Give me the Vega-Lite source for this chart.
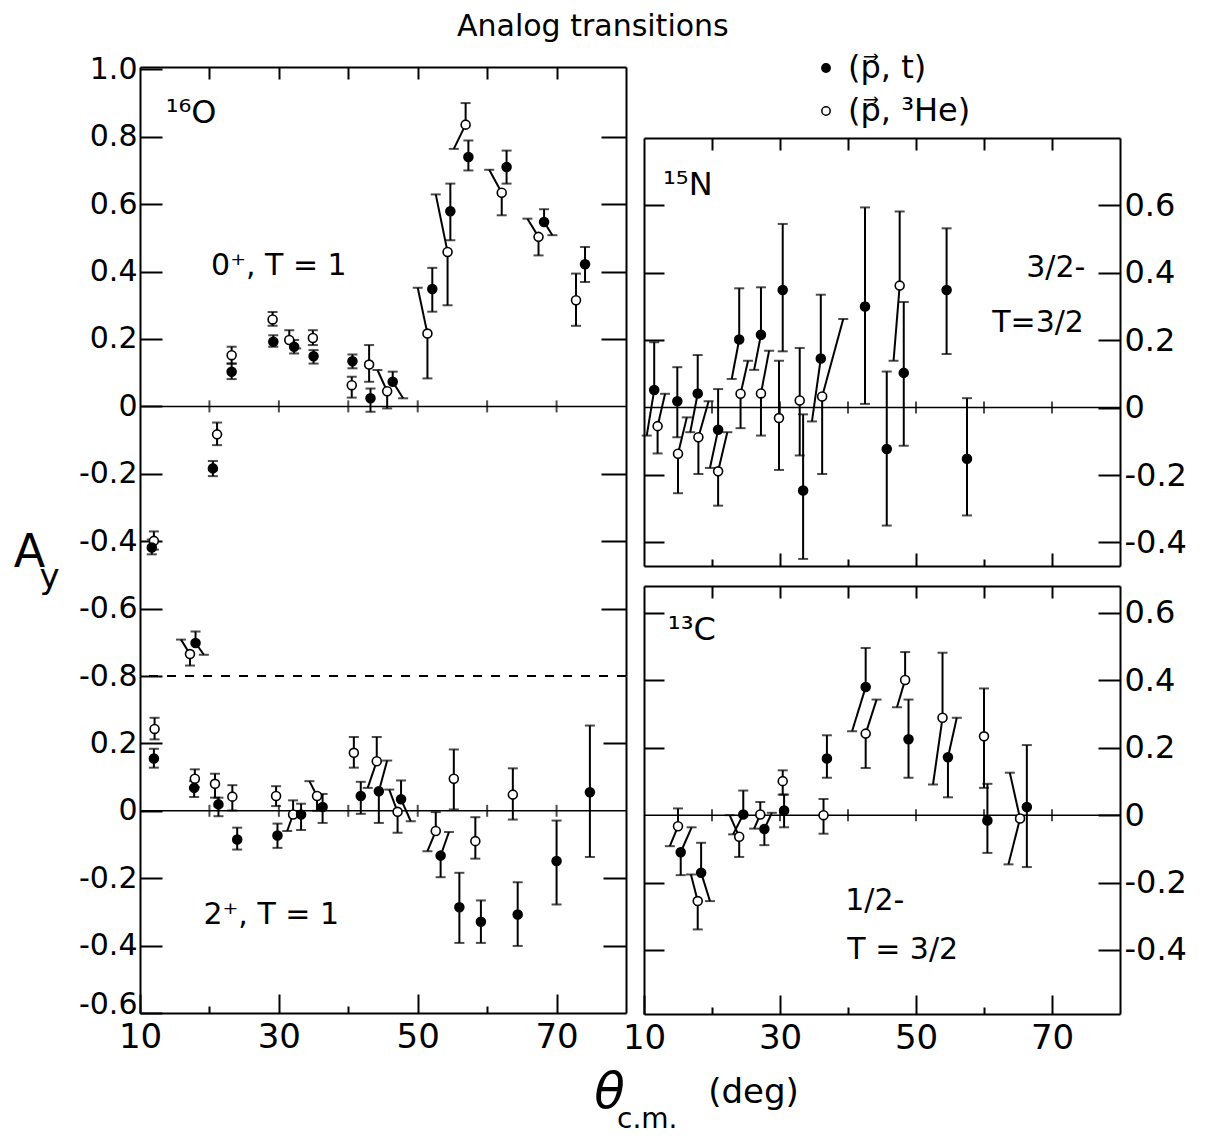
{
  "$schema": "https://vega.github.io/schema/vega-lite/v6.json",
  "padding": {"left": 13, "top": 12, "right": 10, "bottom": 10},
  "background": "white",
  "title": {"text": "Analog transitions", "fontSize": 30, "font": "DejaVu Sans", "fontWeight": "normal", "color": "black", "anchor": "middle", "offset": 10, "dx": -7},
  "config": {
    "view": {"stroke": null},
    "font": "DejaVu Sans",
    "axis": {"grid": false, "domainColor": "black", "domainWidth": 2, "tickColor": "black", "tickWidth": 2, "labelColor": "black", "titleColor": "black", "labelFont": "DejaVu Sans", "titleFont": "DejaVu Sans", "titleFontWeight": "normal", "labelFlush": false, "labelOverlap": false, "labelBound": false}
  },
  "datasets": {
    "zt": [{"g": 20}, {"g": 30}, {"g": 40}, {"g": 50}, {"g": 60}, {"g": 70}],
    "pts": [
      {"p":"LT","r":"h","x":23.2,"y":0.152,"hi":0.177,"lo":0.127,"xh":23.2,"xl":23.2},
      {"p":"LT","r":"t","x":23.2,"y":0.103,"hi":0.127,"lo":0.081,"xh":23.2,"xl":23.2},
      {"p":"LT","r":"h","x":29.1,"y":0.258,"hi":0.28,"lo":0.239,"xh":29.1,"xl":29.1},
      {"p":"LT","r":"t","x":29.2,"y":0.192,"hi":0.211,"lo":0.177,"xh":29.2,"xl":29.2},
      {"p":"LT","r":"h","x":31.5,"y":0.197,"hi":0.226,"lo":0.172,"xh":31.5,"xl":32.5},
      {"p":"LT","r":"t","x":32.2,"y":0.177,"hi":0.197,"lo":0.157,"xh":32.2,"xl":32.2},
      {"p":"LT","r":"h","x":34.9,"y":0.203,"hi":0.226,"lo":0.182,"xh":34.9,"xl":34.9},
      {"p":"LT","r":"t","x":35.0,"y":0.149,"hi":0.167,"lo":0.127,"xh":35.0,"xl":35.0},
      {"p":"LT","r":"t","x":40.6,"y":0.134,"hi":0.154,"lo":0.113,"xh":40.6,"xl":40.6},
      {"p":"LT","r":"h","x":40.5,"y":0.063,"hi":0.088,"lo":0.026,"xh":40.5,"xl":40.5},
      {"p":"LT","r":"h","x":43.0,"y":0.124,"hi":0.182,"lo":0.073,"xh":43.0,"xl":43.0},
      {"p":"LT","r":"t","x":43.2,"y":0.024,"hi":0.053,"lo":-0.016,"xh":43.2,"xl":43.2},
      {"p":"LT","r":"h","x":45.6,"y":0.045,"hi":0.108,"lo":-0.006,"xh":44.2,"xl":45.6},
      {"p":"LT","r":"t","x":46.4,"y":0.073,"hi":0.103,"lo":0.024,"xh":46.4,"xl":47.9},
      {"p":"LT","r":"h","x":51.4,"y":0.216,"hi":0.352,"lo":0.083,"xh":50.0,"xl":51.4},
      {"p":"LT","r":"t","x":52.1,"y":0.348,"hi":0.411,"lo":0.281,"xh":52.1,"xl":52.1},
      {"p":"LT","r":"h","x":54.3,"y":0.458,"hi":0.629,"lo":0.300,"xh":52.6,"xl":54.3},
      {"p":"LT","r":"t","x":54.7,"y":0.579,"hi":0.661,"lo":0.493,"xh":54.7,"xl":54.7},
      {"p":"LT","r":"h","x":56.9,"y":0.836,"hi":0.900,"lo":0.764,"xh":56.9,"xl":55.2},
      {"p":"LT","r":"t","x":57.3,"y":0.740,"hi":0.789,"lo":0.700,"xh":57.3,"xl":57.3},
      {"p":"LT","r":"t","x":62.8,"y":0.710,"hi":0.759,"lo":0.661,"xh":62.8,"xl":62.8},
      {"p":"LT","r":"h","x":62.1,"y":0.634,"hi":0.702,"lo":0.567,"xh":60.3,"xl":62.1},
      {"p":"LT","r":"t","x":68.2,"y":0.547,"hi":0.585,"lo":0.508,"xh":68.2,"xl":69.4},
      {"p":"LT","r":"h","x":67.4,"y":0.503,"hi":0.557,"lo":0.448,"xh":65.8,"xl":67.4},
      {"p":"LT","r":"t","x":74.1,"y":0.422,"hi":0.473,"lo":0.369,"xh":74.1,"xl":74.1},
      {"p":"LT","r":"h","x":72.8,"y":0.315,"hi":0.394,"lo":0.239,"xh":72.8,"xl":72.8},
      {"p":"LT","r":"h","x":21.1,"y":-0.083,"hi":-0.048,"lo":-0.115,"xh":21.1,"xl":21.1},
      {"p":"LT","r":"t","x":20.5,"y":-0.184,"hi":-0.162,"lo":-0.207,"xh":20.5,"xl":20.5},
      {"p":"LT","r":"h","x":12.0,"y":-0.399,"hi":-0.371,"lo":-0.425,"xh":12.0,"xl":12.0},
      {"p":"LT","r":"t","x":11.7,"y":-0.419,"hi":-0.395,"lo":-0.439,"xh":11.7,"xl":11.7},
      {"p":"LT","r":"h","x":17.2,"y":-0.735,"hi":-0.692,"lo":-0.769,"xh":15.9,"xl":17.2},
      {"p":"LT","r":"t","x":18.0,"y":-0.702,"hi":-0.668,"lo":-0.737,"xh":18.0,"xl":19.2},

      {"p":"LB","r":"h","x":12.1,"y":0.243,"hi":0.276,"lo":0.212,"xh":12.1,"xl":12.1},
      {"p":"LB","r":"t","x":12.0,"y":0.155,"hi":0.184,"lo":0.128,"xh":12.0,"xl":12.0},
      {"p":"LB","r":"h","x":17.9,"y":0.095,"hi":0.123,"lo":0.070,"xh":17.9,"xl":17.9},
      {"p":"LB","r":"t","x":17.8,"y":0.068,"hi":0.088,"lo":0.041,"xh":17.8,"xl":17.8},
      {"p":"LB","r":"h","x":20.8,"y":0.080,"hi":0.110,"lo":0.039,"xh":20.8,"xl":20.8},
      {"p":"LB","r":"t","x":21.3,"y":0.019,"hi":0.039,"lo":-0.016,"xh":21.3,"xl":21.3},
      {"p":"LB","r":"h","x":23.3,"y":0.042,"hi":0.076,"lo":0.001,"xh":23.3,"xl":23.3},
      {"p":"LB","r":"t","x":24.0,"y":-0.085,"hi":-0.050,"lo":-0.115,"xh":24.0,"xl":24.0},
      {"p":"LB","r":"h","x":29.6,"y":0.044,"hi":0.073,"lo":0.014,"xh":29.6,"xl":29.6},
      {"p":"LB","r":"t","x":29.8,"y":-0.073,"hi":-0.038,"lo":-0.110,"xh":29.8,"xl":29.8},
      {"p":"LB","r":"h","x":32.05,"y":-0.011,"hi":0.031,"lo":-0.060,"xh":32.05,"xl":31.2},
      {"p":"LB","r":"t","x":33.2,"y":-0.011,"hi":0.021,"lo":-0.057,"xh":33.2,"xl":33.2},
      {"p":"LB","r":"h","x":35.5,"y":0.044,"hi":0.088,"lo":0.0,"xh":34.4,"xl":35.5},
      {"p":"LB","r":"t","x":36.3,"y":0.011,"hi":0.050,"lo":-0.036,"xh":36.3,"xl":36.3},
      {"p":"LB","r":"h","x":40.8,"y":0.172,"hi":0.219,"lo":0.128,"xh":40.8,"xl":40.8},
      {"p":"LB","r":"t","x":41.8,"y":0.044,"hi":0.086,"lo":-0.009,"xh":41.8,"xl":41.8},
      {"p":"LB","r":"h","x":44.1,"y":0.147,"hi":0.219,"lo":0.068,"xh":44.1,"xl":42.8},
      {"p":"LB","r":"t","x":44.4,"y":0.058,"hi":0.149,"lo":-0.036,"xh":45.6,"xl":44.4},
      {"p":"LB","r":"h","x":47.1,"y":-0.003,"hi":0.063,"lo":-0.065,"xh":45.9,"xl":47.1},
      {"p":"LB","r":"t","x":47.6,"y":0.034,"hi":0.090,"lo":-0.031,"xh":47.6,"xl":49.0},
      {"p":"LB","r":"h","x":52.6,"y":-0.060,"hi":-0.004,"lo":-0.120,"xh":52.6,"xl":51.4},
      {"p":"LB","r":"t","x":53.3,"y":-0.133,"hi":-0.063,"lo":-0.197,"xh":54.5,"xl":53.3},
      {"p":"LB","r":"h","x":55.2,"y":0.095,"hi":0.182,"lo":0.004,"xh":55.2,"xl":55.2},
      {"p":"LB","r":"t","x":56.0,"y":-0.286,"hi":-0.184,"lo":-0.392,"xh":56.0,"xl":56.0},
      {"p":"LB","r":"h","x":58.3,"y":-0.090,"hi":-0.019,"lo":-0.142,"xh":58.3,"xl":58.3},
      {"p":"LB","r":"t","x":59.1,"y":-0.329,"hi":-0.266,"lo":-0.392,"xh":59.1,"xl":59.1},
      {"p":"LB","r":"h","x":63.7,"y":0.048,"hi":0.126,"lo":-0.026,"xh":63.7,"xl":63.7},
      {"p":"LB","r":"t","x":64.4,"y":-0.308,"hi":-0.212,"lo":-0.401,"xh":64.4,"xl":64.4},
      {"p":"LB","r":"t","x":70.0,"y":-0.149,"hi":-0.029,"lo":-0.278,"xh":70.0,"xl":70.0},
      {"p":"LB","r":"t","x":74.8,"y":0.055,"hi":0.253,"lo":-0.137,"xh":74.8,"xl":74.8},

      {"p":"RT","r":"t","x":11.5,"y":0.052,"hi":0.194,"lo":-0.083,"xh":11.5,"xl":10.4},
      {"p":"RT","r":"h","x":12.0,"y":-0.055,"hi":0.041,"lo":-0.136,"xh":13.1,"xl":12.0},
      {"p":"RT","r":"t","x":14.9,"y":0.019,"hi":0.120,"lo":-0.088,"xh":14.9,"xl":14.9},
      {"p":"RT","r":"h","x":15.0,"y":-0.137,"hi":-0.029,"lo":-0.254,"xh":16.3,"xl":15.0},
      {"p":"RT","r":"t","x":17.9,"y":0.042,"hi":0.156,"lo":-0.073,"xh":17.9,"xl":16.8},
      {"p":"RT","r":"h","x":18.0,"y":-0.088,"hi":0.019,"lo":-0.197,"xh":19.5,"xl":18.0},
      {"p":"RT","r":"t","x":20.9,"y":-0.066,"hi":0.055,"lo":-0.179,"xh":20.9,"xl":19.7},
      {"p":"RT","r":"h","x":20.9,"y":-0.189,"hi":-0.073,"lo":-0.291,"xh":22.25,"xl":20.9},
      {"p":"RT","r":"t","x":24.0,"y":0.202,"hi":0.354,"lo":0.085,"xh":24.0,"xl":22.9},
      {"p":"RT","r":"h","x":24.2,"y":0.041,"hi":0.139,"lo":-0.061,"xh":25.3,"xl":24.2},
      {"p":"RT","r":"t","x":27.2,"y":0.216,"hi":0.357,"lo":0.112,"xh":27.2,"xl":26.2},
      {"p":"RT","r":"h","x":27.2,"y":0.042,"hi":0.169,"lo":-0.083,"xh":28.4,"xl":27.2},
      {"p":"RT","r":"t","x":30.4,"y":0.349,"hi":0.545,"lo":0.167,"xh":30.4,"xl":30.4},
      {"p":"RT","r":"h","x":29.85,"y":-0.031,"hi":0.139,"lo":-0.185,"xh":29.85,"xl":29.85},
      {"p":"RT","r":"h","x":32.9,"y":0.021,"hi":0.177,"lo":-0.142,"xh":32.9,"xl":32.9},
      {"p":"RT","r":"t","x":33.4,"y":-0.246,"hi":-0.02,"lo":-0.449,"xh":33.4,"xl":33.4},
      {"p":"RT","r":"t","x":36.0,"y":0.146,"hi":0.335,"lo":-0.041,"xh":36.0,"xl":34.7},
      {"p":"RT","r":"h","x":36.2,"y":0.033,"hi":0.263,"lo":-0.197,"xh":39.3,"xl":36.2},
      {"p":"RT","r":"t","x":42.5,"y":0.300,"hi":0.594,"lo":0.011,"xh":42.5,"xl":42.5},
      {"p":"RT","r":"t","x":45.7,"y":-0.123,"hi":0.107,"lo":-0.350,"xh":45.7,"xl":45.7},
      {"p":"RT","r":"h","x":47.6,"y":0.362,"hi":0.582,"lo":0.139,"xh":47.6,"xl":46.7},
      {"p":"RT","r":"t","x":48.2,"y":0.103,"hi":0.313,"lo":-0.113,"xh":48.2,"xl":48.2},
      {"p":"RT","r":"t","x":54.5,"y":0.349,"hi":0.532,"lo":0.159,"xh":54.5,"xl":54.5},
      {"p":"RT","r":"t","x":57.5,"y":-0.152,"hi":0.028,"lo":-0.320,"xh":57.5,"xl":57.5},

      {"p":"RB","r":"h","x":15.0,"y":-0.033,"hi":0.020,"lo":-0.092,"xh":15.0,"xl":13.8},
      {"p":"RB","r":"t","x":15.4,"y":-0.110,"hi":-0.036,"lo":-0.178,"xh":17.0,"xl":15.4},
      {"p":"RB","r":"t","x":18.4,"y":-0.171,"hi":-0.082,"lo":-0.255,"xh":18.4,"xl":19.7},
      {"p":"RB","r":"h","x":17.9,"y":-0.255,"hi":-0.176,"lo":-0.339,"xh":16.9,"xl":17.9},
      {"p":"RB","r":"t","x":24.6,"y":0.002,"hi":0.073,"lo":-0.057,"xh":24.6,"xl":23.1},
      {"p":"RB","r":"h","x":24.0,"y":-0.064,"hi":0.0,"lo":-0.124,"xh":22.6,"xl":24.0},
      {"p":"RB","r":"h","x":27.1,"y":0.002,"hi":0.039,"lo":-0.04,"xh":27.1,"xl":26.2},
      {"p":"RB","r":"t","x":27.7,"y":-0.041,"hi":0.007,"lo":-0.089,"xh":28.8,"xl":27.7},
      {"p":"RB","r":"h","x":30.4,"y":0.101,"hi":0.133,"lo":0.061,"xh":30.4,"xl":30.4},
      {"p":"RB","r":"t","x":30.6,"y":0.014,"hi":0.061,"lo":-0.036,"xh":30.6,"xl":30.6},
      {"p":"RB","r":"t","x":36.9,"y":0.168,"hi":0.237,"lo":0.111,"xh":36.9,"xl":36.9},
      {"p":"RB","r":"h","x":36.4,"y":0.0,"hi":0.048,"lo":-0.055,"xh":36.4,"xl":36.4},
      {"p":"RB","r":"t","x":42.6,"y":0.380,"hi":0.496,"lo":0.249,"xh":42.6,"xl":40.6},
      {"p":"RB","r":"h","x":42.6,"y":0.242,"hi":0.343,"lo":0.140,"xh":44.2,"xl":42.6},
      {"p":"RB","r":"h","x":48.4,"y":0.401,"hi":0.484,"lo":0.320,"xh":48.4,"xl":47.2},
      {"p":"RB","r":"t","x":48.9,"y":0.225,"hi":0.343,"lo":0.111,"xh":48.9,"xl":48.9},
      {"p":"RB","r":"h","x":53.9,"y":0.289,"hi":0.482,"lo":0.091,"xh":53.9,"xl":52.5},
      {"p":"RB","r":"t","x":54.7,"y":0.172,"hi":0.289,"lo":0.053,"xh":56.0,"xl":54.7},
      {"p":"RB","r":"h","x":60.0,"y":0.234,"hi":0.376,"lo":0.081,"xh":60.0,"xl":60.0},
      {"p":"RB","r":"t","x":60.5,"y":-0.016,"hi":0.093,"lo":-0.112,"xh":60.5,"xl":60.5},
      {"p":"RB","r":"h","x":65.3,"y":-0.010,"hi":0.126,"lo":-0.146,"xh":63.8,"xl":63.6},
      {"p":"RB","r":"t","x":66.3,"y":0.024,"hi":0.208,"lo":-0.154,"xh":66.3,"xl":66.3}
    ]
  },
  "spacing": -5,
  "hconcat": [
    {
      "bounds": "flush",
      "spacing": 0,
      "vconcat": [
        {
          "width": 486, "height": 609,
          "resolve": {"axis": {"x": "independent", "y": "independent"}},
          "layer": [
            {"data": {"values": [{}]}, "mark": {"type": "rule", "strokeWidth": 1.5, "color": "black"},
             "encoding": {"y": {"datum": 0, "type": "quantitative", "scale": {"domain": [-0.8, 1.007], "nice": false, "zero": false}, "axis": null}}},
            {"data": {"name": "zt"}, "mark": {"type": "tick", "orient": "vertical", "size": 12, "thickness": 2, "color": "black"},
             "encoding": {"x": {"field": "g", "type": "quantitative", "scale": {"domain": [10, 80], "nice": false, "zero": false}, "axis": null},
                          "y": {"datum": 0, "type": "quantitative", "scale": {"domain": [-0.8, 1.007], "nice": false, "zero": false}, "axis": null}}},
            {"data": {"values": [{}]}, "mark": {"type": "rule", "strokeWidth": 2, "strokeDash": [9, 9], "color": "black"},
             "encoding": {"y": {"datum": -0.8, "type": "quantitative", "scale": {"domain": [-0.8, 1.007], "nice": false, "zero": false}, "axis": null}}},
            {"data": {"name": "pts"}, "transform": [{"filter": "datum.p == 'LT'"}],
             "mark": {"type": "rule", "strokeWidth": 2, "color": "black"},
             "encoding": {
               "x": {"field": "xh", "type": "quantitative", "scale": {"domain": [10, 80], "nice": false, "zero": false}, "axis": null},
               "y": {"field": "hi", "type": "quantitative", "scale": {"domain": [-0.8, 1.007], "nice": false, "zero": false},
                     "axis": {"orient": "left", "values": [-0.8, -0.6, -0.4, -0.2, 0, 0.2, 0.4, 0.6, 0.8, 1.0], "tickSize": -22, "labelPadding": 25, "labelFontSize": 30,
                              "labelExpr": "datum.value == 0 ? '0' : replace(format(datum.value, '.1f'), '\u2212', '-')",
                              "title": "A", "titleFontSize": 46, "titleAngle": 0, "titleAlign": "center", "titleBaseline": "middle", "titleX": -111, "titleY": 485}},
               "x2": {"field": "x"}, "y2": {"field": "y"}}},
            {"data": {"name": "pts"}, "transform": [{"filter": "datum.p == 'LT'"}],
             "mark": {"type": "rule", "strokeWidth": 2, "color": "black"},
             "encoding": {
               "x": {"field": "x", "type": "quantitative", "scale": {"domain": [10, 80], "nice": false, "zero": false},
                     "axis": {"orient": "top", "values": [20, 30, 40, 50, 60, 70], "tickSize": -12, "labels": false, "title": null}},
               "y": {"field": "y", "type": "quantitative", "scale": {"domain": [-0.8, 1.007], "nice": false, "zero": false},
                     "axis": {"orient": "right", "values": [-0.6, -0.4, -0.2, 0.2, 0.4, 0.6, 0.8], "tickSize": -25, "labels": false, "title": null}},
               "x2": {"field": "xl"}, "y2": {"field": "lo"}}},
            {"data": {"name": "pts"}, "transform": [{"filter": "datum.p == 'LT'"}],
             "mark": {"type": "tick", "orient": "horizontal", "size": 10, "thickness": 2, "color": "black"},
             "encoding": {
               "x": {"field": "xh", "type": "quantitative", "scale": {"domain": [10, 80], "nice": false, "zero": false}, "axis": null},
               "y": {"field": "hi", "type": "quantitative", "scale": {"domain": [-0.8, 1.007], "nice": false, "zero": false}, "axis": null}}},
            {"data": {"name": "pts"}, "transform": [{"filter": "datum.p == 'LT'"}],
             "mark": {"type": "tick", "orient": "horizontal", "size": 10, "thickness": 2, "color": "black"},
             "encoding": {
               "x": {"field": "xl", "type": "quantitative", "scale": {"domain": [10, 80], "nice": false, "zero": false}, "axis": null},
               "y": {"field": "lo", "type": "quantitative", "scale": {"domain": [-0.8, 1.007], "nice": false, "zero": false}, "axis": null}}},
            {"data": {"name": "pts"}, "transform": [{"filter": "datum.p == 'LT'"}],
             "mark": {"type": "point", "shape": "circle", "filled": true, "stroke": "black", "strokeWidth": 1.6, "size": 80, "opacity": 1},
             "encoding": {
               "x": {"field": "x", "type": "quantitative", "scale": {"domain": [10, 80], "nice": false, "zero": false}, "axis": null},
               "y": {"field": "y", "type": "quantitative", "scale": {"domain": [-0.8, 1.007], "nice": false, "zero": false}, "axis": null},
               "fill": {"field": "r", "type": "nominal", "scale": {"domain": ["t", "h"], "range": ["black", "white"]},
                        "legend": {"orient": "none", "legendX": 670, "legendY": -15, "title": null, "labelFontSize": 32, "labelColor": "black", "symbolSize": 70, "symbolStrokeColor": "black", "symbolStrokeWidth": 1.5, "symbolType": "circle", "rowPadding": 11, "padding": 0, "labelOffset": 6, "labelLimit": 0,
                                   "labelExpr": "datum.label == 't' ? '(p\u20d7, t)' : '(p\u20d7, \u00b3He)'"}}}},
            {"data": {"values": [{}]}, "mark": {"type": "text", "text": "\u00b9\u2076O", "fontSize": 32, "align": "left", "baseline": "middle", "color": "black"},
             "encoding": {"x": {"datum": 13.7, "type": "quantitative", "scale": {"domain": [10, 80], "nice": false, "zero": false}, "axis": null},
                          "y": {"datum": 0.87, "type": "quantitative", "scale": {"domain": [-0.8, 1.007], "nice": false, "zero": false}, "axis": null}}},
            {"data": {"values": [{}]}, "mark": {"type": "text", "text": "0\u207a, T = 1", "fontSize": 30, "align": "center", "baseline": "middle", "color": "black"},
             "encoding": {"x": {"datum": 30.0, "type": "quantitative", "scale": {"domain": [10, 80], "nice": false, "zero": false}, "axis": null},
                          "y": {"datum": 0.418, "type": "quantitative", "scale": {"domain": [-0.8, 1.007], "nice": false, "zero": false}, "axis": null}}}
          ]
        },
        {
          "width": 486, "height": 337,
          "resolve": {"axis": {"x": "independent", "y": "independent"}},
          "layer": [
            {"data": {"values": [{}]}, "mark": {"type": "rule", "strokeWidth": 1.5, "color": "black"},
             "encoding": {"y": {"datum": 0, "type": "quantitative", "scale": {"domain": [-0.6, 0.4], "nice": false, "zero": false}, "axis": null},
                          "strokeDash": {"datum": "c.m.", "type": "nominal", "scale": {"domain": ["c.m."], "range": [[1, 0]]},
                                         "legend": {"orient": "none", "legendX": 449, "legendY": 1039, "title": null, "labelFontSize": 28, "labelColor": "black", "symbolSize": 0, "symbolOpacity": 0, "symbolStrokeWidth": 0, "padding": 0, "labelOffset": 0, "labelLimit": 0}}}},
            {"data": {"name": "zt"}, "mark": {"type": "tick", "orient": "vertical", "size": 12, "thickness": 2, "color": "black"},
             "encoding": {"x": {"field": "g", "type": "quantitative", "scale": {"domain": [10, 80], "nice": false, "zero": false}, "axis": null},
                          "y": {"datum": 0, "type": "quantitative", "scale": {"domain": [-0.6, 0.4], "nice": false, "zero": false}, "axis": null}}},
            {"data": {"name": "pts"}, "transform": [{"filter": "datum.p == 'LB'"}],
             "mark": {"type": "rule", "strokeWidth": 2, "color": "black"},
             "encoding": {
               "x": {"field": "xh", "type": "quantitative", "scale": {"domain": [10, 80], "nice": false, "zero": false},
                     "axis": {"orient": "bottom", "values": [10, 20, 30, 40, 50, 60, 70],
                              "tickSize": {"condition": {"test": "datum.value % 20 == 10", "value": -19}, "value": -7},
                              "labelPadding": 26, "labelFontSize": 34, "labelExpr": "datum.value % 20 == 10 ? datum.label : ''",
                              "title": "\u03b8", "titleFontSize": 50, "titleFontStyle": "italic", "titleAlign": "center", "titleBaseline": "middle", "titleX": 469, "titleY": 79}},
               "y": {"field": "hi", "type": "quantitative", "scale": {"domain": [-0.6, 0.4], "nice": false, "zero": false},
                     "axis": {"orient": "left", "values": [-0.6, -0.4, -0.2, 0, 0.2], "tickSize": -22, "labelPadding": 25, "labelFontSize": 30,
                              "labelOffset": {"condition": {"test": "datum.value == -0.6", "value": -9}, "value": 0},
                              "labelExpr": "datum.value == 0 ? '0' : replace(format(datum.value, '.1f'), '\u2212', '-')",
                              "title": "y", "titleFontSize": 34, "titleAngle": 0, "titleAlign": "center", "titleBaseline": "middle", "titleX": -91, "titleY": -99}},
               "x2": {"field": "x"}, "y2": {"field": "y"}}},
            {"data": {"name": "pts"}, "transform": [{"filter": "datum.p == 'LB'"}],
             "mark": {"type": "rule", "strokeWidth": 2, "color": "black"},
             "encoding": {
               "x": {"field": "x", "type": "quantitative", "scale": {"domain": [10, 80], "nice": false, "zero": false}, "axis": null},
               "y": {"field": "y", "type": "quantitative", "scale": {"domain": [-0.6, 0.4], "nice": false, "zero": false},
                     "axis": {"orient": "right", "values": [-0.4, -0.2, 0.2], "tickSize": -23, "labels": false, "title": null}},
               "x2": {"field": "xl"}, "y2": {"field": "lo"}}},
            {"data": {"name": "pts"}, "transform": [{"filter": "datum.p == 'LB'"}],
             "mark": {"type": "tick", "orient": "horizontal", "size": 10, "thickness": 2, "color": "black"},
             "encoding": {
               "x": {"field": "xh", "type": "quantitative", "scale": {"domain": [10, 80], "nice": false, "zero": false}, "axis": null},
               "y": {"field": "hi", "type": "quantitative", "scale": {"domain": [-0.6, 0.4], "nice": false, "zero": false}, "axis": null}}},
            {"data": {"name": "pts"}, "transform": [{"filter": "datum.p == 'LB'"}],
             "mark": {"type": "tick", "orient": "horizontal", "size": 10, "thickness": 2, "color": "black"},
             "encoding": {
               "x": {"field": "xl", "type": "quantitative", "scale": {"domain": [10, 80], "nice": false, "zero": false}, "axis": null},
               "y": {"field": "lo", "type": "quantitative", "scale": {"domain": [-0.6, 0.4], "nice": false, "zero": false}, "axis": null}}},
            {"data": {"name": "pts"}, "transform": [{"filter": "datum.p == 'LB'"}],
             "mark": {"type": "point", "shape": "circle", "filled": true, "stroke": "black", "strokeWidth": 1.6, "size": 80, "opacity": 1},
             "encoding": {
               "x": {"field": "x", "type": "quantitative", "scale": {"domain": [10, 80], "nice": false, "zero": false}, "axis": null},
               "y": {"field": "y", "type": "quantitative", "scale": {"domain": [-0.6, 0.4], "nice": false, "zero": false}, "axis": null},
               "fill": {"field": "r", "type": "nominal", "scale": {"domain": ["t", "h"], "range": ["black", "white"]},
                        "legend": {"orient": "none", "legendX": 670, "legendY": -15, "title": null, "labelFontSize": 32, "labelColor": "black", "symbolSize": 70, "symbolStrokeColor": "black", "symbolStrokeWidth": 1.5, "symbolType": "circle", "rowPadding": 11, "padding": 0, "labelOffset": 6, "labelLimit": 0,
                                   "labelExpr": "datum.label == 't' ? '(p\u20d7, t)' : '(p\u20d7, \u00b3He)'"}}}},
            {"data": {"values": [{}]}, "mark": {"type": "text", "text": "2\u207a, T = 1", "fontSize": 30, "align": "center", "baseline": "middle", "color": "black"},
             "encoding": {"x": {"datum": 28.9, "type": "quantitative", "scale": {"domain": [10, 80], "nice": false, "zero": false}, "axis": null},
                          "y": {"datum": -0.31, "type": "quantitative", "scale": {"domain": [-0.6, 0.4], "nice": false, "zero": false}, "axis": null}}}
          ]
        }
      ]
    },
    {
      "bounds": "flush",
      "spacing": 20,
      "vconcat": [
        {"width": 476, "height": 51, "data": {"values": [{}]}, "mark": {"type": "text"}, "encoding": {"text": {"value": ""}}},
        {
          "width": 476, "height": 428,
          "resolve": {"axis": {"x": "independent", "y": "independent"}},
          "layer": [
            {"data": {"values": [{}]}, "mark": {"type": "rule", "strokeWidth": 1.5, "color": "black"},
             "encoding": {"y": {"datum": 0, "type": "quantitative", "scale": {"domain": [-0.47, 0.8], "nice": false, "zero": false}, "axis": null}}},
            {"data": {"name": "zt"}, "mark": {"type": "tick", "orient": "vertical", "size": 12, "thickness": 2, "color": "black"},
             "encoding": {"x": {"field": "g", "type": "quantitative", "scale": {"domain": [10, 80], "nice": false, "zero": false}, "axis": null},
                          "y": {"datum": 0, "type": "quantitative", "scale": {"domain": [-0.47, 0.8], "nice": false, "zero": false}, "axis": null}}},
            {"data": {"name": "pts"}, "transform": [{"filter": "datum.p == 'RT'"}],
             "mark": {"type": "rule", "strokeWidth": 2, "color": "black"},
             "encoding": {
               "x": {"field": "xh", "type": "quantitative", "scale": {"domain": [10, 80], "nice": false, "zero": false},
                     "axis": {"orient": "bottom", "values": [20, 30, 40, 50, 60, 70], "tickSize": {"condition": {"test": "datum.value % 20 == 10", "value": -13}, "value": -7}, "labels": false, "title": null}},
               "y": {"field": "hi", "type": "quantitative", "scale": {"domain": [-0.47, 0.8], "nice": false, "zero": false},
                     "axis": {"orient": "left", "values": [-0.4, -0.2, 0.2, 0.4, 0.6], "tickSize": -20, "labels": false, "title": null}},
               "x2": {"field": "x"}, "y2": {"field": "y"}}},
            {"data": {"name": "pts"}, "transform": [{"filter": "datum.p == 'RT'"}],
             "mark": {"type": "rule", "strokeWidth": 2, "color": "black"},
             "encoding": {
               "x": {"field": "x", "type": "quantitative", "scale": {"domain": [10, 80], "nice": false, "zero": false},
                     "axis": {"orient": "top", "values": [20, 30, 40, 50, 60, 70], "tickSize": -12, "labels": false, "title": null}},
               "y": {"field": "y", "type": "quantitative", "scale": {"domain": [-0.47, 0.8], "nice": false, "zero": false},
                     "axis": {"orient": "right", "values": [-0.4, -0.2, 0, 0.2, 0.4, 0.6], "tickSize": -22, "labelPadding": 26, "labelFontSize": 32,
                              "labelExpr": "datum.value == 0 ? '0' : replace(format(datum.value, '.1f'), '\u2212', '-')", "title": null}},
               "x2": {"field": "xl"}, "y2": {"field": "lo"}}},
            {"data": {"name": "pts"}, "transform": [{"filter": "datum.p == 'RT'"}],
             "mark": {"type": "tick", "orient": "horizontal", "size": 10, "thickness": 2, "color": "black"},
             "encoding": {
               "x": {"field": "xh", "type": "quantitative", "scale": {"domain": [10, 80], "nice": false, "zero": false}, "axis": null},
               "y": {"field": "hi", "type": "quantitative", "scale": {"domain": [-0.47, 0.8], "nice": false, "zero": false}, "axis": null}}},
            {"data": {"name": "pts"}, "transform": [{"filter": "datum.p == 'RT'"}],
             "mark": {"type": "tick", "orient": "horizontal", "size": 10, "thickness": 2, "color": "black"},
             "encoding": {
               "x": {"field": "xl", "type": "quantitative", "scale": {"domain": [10, 80], "nice": false, "zero": false}, "axis": null},
               "y": {"field": "lo", "type": "quantitative", "scale": {"domain": [-0.47, 0.8], "nice": false, "zero": false}, "axis": null}}},
            {"data": {"name": "pts"}, "transform": [{"filter": "datum.p == 'RT'"}],
             "mark": {"type": "point", "shape": "circle", "filled": true, "stroke": "black", "strokeWidth": 1.6, "size": 80, "opacity": 1},
             "encoding": {
               "x": {"field": "x", "type": "quantitative", "scale": {"domain": [10, 80], "nice": false, "zero": false}, "axis": null},
               "y": {"field": "y", "type": "quantitative", "scale": {"domain": [-0.47, 0.8], "nice": false, "zero": false}, "axis": null},
               "fill": {"field": "r", "type": "nominal", "scale": {"domain": ["t", "h"], "range": ["black", "white"]},
                        "legend": {"orient": "none", "legendX": 670, "legendY": -15, "title": null, "labelFontSize": 32, "labelColor": "black", "symbolSize": 70, "symbolStrokeColor": "black", "symbolStrokeWidth": 1.5, "symbolType": "circle", "rowPadding": 11, "padding": 0, "labelOffset": 6, "labelLimit": 0,
                                   "labelExpr": "datum.label == 't' ? '(p\u20d7, t)' : '(p\u20d7, \u00b3He)'"}}}},
            {"data": {"values": [{}]}, "mark": {"type": "text", "text": "\u00b9\u2075N", "fontSize": 32, "align": "left", "baseline": "middle", "color": "black"},
             "encoding": {"x": {"datum": 12.8, "type": "quantitative", "scale": {"domain": [10, 80], "nice": false, "zero": false}, "axis": null},
                          "y": {"datum": 0.66, "type": "quantitative", "scale": {"domain": [-0.47, 0.8], "nice": false, "zero": false}, "axis": null}}},
            {"data": {"values": [{}]}, "mark": {"type": "text", "text": "3/2-", "fontSize": 30, "align": "right", "baseline": "middle", "color": "black"},
             "encoding": {"x": {"datum": 74.9, "type": "quantitative", "scale": {"domain": [10, 80], "nice": false, "zero": false}, "axis": null},
                          "y": {"datum": 0.415, "type": "quantitative", "scale": {"domain": [-0.47, 0.8], "nice": false, "zero": false}, "axis": null}}},
            {"data": {"values": [{}]}, "mark": {"type": "text", "text": "T=3/2", "fontSize": 30, "align": "right", "baseline": "middle", "color": "black"},
             "encoding": {"x": {"datum": 74.7, "type": "quantitative", "scale": {"domain": [10, 80], "nice": false, "zero": false}, "axis": null},
                          "y": {"datum": 0.25, "type": "quantitative", "scale": {"domain": [-0.47, 0.8], "nice": false, "zero": false}, "axis": null}}}
          ]
        },
        {
          "width": 476, "height": 428,
          "resolve": {"axis": {"x": "independent", "y": "independent"}},
          "layer": [
            {"data": {"values": [{}]}, "mark": {"type": "rule", "strokeWidth": 1.5, "color": "black"},
             "encoding": {"y": {"datum": 0, "type": "quantitative", "scale": {"domain": [-0.59, 0.68], "nice": false, "zero": false}, "axis": null}}},
            {"data": {"name": "zt"}, "mark": {"type": "tick", "orient": "vertical", "size": 12, "thickness": 2, "color": "black"},
             "encoding": {"x": {"field": "g", "type": "quantitative", "scale": {"domain": [10, 80], "nice": false, "zero": false}, "axis": null},
                          "y": {"datum": 0, "type": "quantitative", "scale": {"domain": [-0.59, 0.68], "nice": false, "zero": false}, "axis": null}}},
            {"data": {"name": "pts"}, "transform": [{"filter": "datum.p == 'RB'"}],
             "mark": {"type": "rule", "strokeWidth": 2, "color": "black"},
             "encoding": {
               "x": {"field": "xh", "type": "quantitative", "scale": {"domain": [10, 80], "nice": false, "zero": false},
                     "axis": {"orient": "bottom", "values": [10, 20, 30, 40, 50, 60, 70],
                              "tickSize": {"condition": {"test": "datum.value % 20 == 10", "value": -19}, "value": -7},
                              "labelPadding": 26, "labelFontSize": 34, "labelExpr": "datum.value % 20 == 10 ? datum.label : ''",
                              "title": "(deg)", "titleFontSize": 34, "titleAlign": "center", "titleBaseline": "middle", "titleX": 109, "titleY": 78}},
               "y": {"field": "hi", "type": "quantitative", "scale": {"domain": [-0.59, 0.68], "nice": false, "zero": false},
                     "axis": {"orient": "left", "values": [-0.4, -0.2, 0.2, 0.4, 0.6], "tickSize": -20, "labels": false, "title": null}},
               "x2": {"field": "x"}, "y2": {"field": "y"}}},
            {"data": {"name": "pts"}, "transform": [{"filter": "datum.p == 'RB'"}],
             "mark": {"type": "rule", "strokeWidth": 2, "color": "black"},
             "encoding": {
               "x": {"field": "x", "type": "quantitative", "scale": {"domain": [10, 80], "nice": false, "zero": false},
                     "axis": {"orient": "top", "values": [20, 30, 40, 50, 60, 70], "tickSize": -12, "labels": false, "title": null}},
               "y": {"field": "y", "type": "quantitative", "scale": {"domain": [-0.59, 0.68], "nice": false, "zero": false},
                     "axis": {"orient": "right", "values": [-0.6, -0.4, -0.2, 0, 0.2, 0.4, 0.6], "tickSize": -22, "labelPadding": 26, "labelFontSize": 32,
                              "labelOffset": {"condition": {"test": "datum.value == -0.6", "value": -9}, "value": 0},
                              "labelExpr": "datum.value == 0 ? '0' : replace(format(datum.value, '.1f'), '\u2212', '-')", "title": null}},
               "x2": {"field": "xl"}, "y2": {"field": "lo"}}},
            {"data": {"name": "pts"}, "transform": [{"filter": "datum.p == 'RB'"}],
             "mark": {"type": "tick", "orient": "horizontal", "size": 10, "thickness": 2, "color": "black"},
             "encoding": {
               "x": {"field": "xh", "type": "quantitative", "scale": {"domain": [10, 80], "nice": false, "zero": false}, "axis": null},
               "y": {"field": "hi", "type": "quantitative", "scale": {"domain": [-0.59, 0.68], "nice": false, "zero": false}, "axis": null}}},
            {"data": {"name": "pts"}, "transform": [{"filter": "datum.p == 'RB'"}],
             "mark": {"type": "tick", "orient": "horizontal", "size": 10, "thickness": 2, "color": "black"},
             "encoding": {
               "x": {"field": "xl", "type": "quantitative", "scale": {"domain": [10, 80], "nice": false, "zero": false}, "axis": null},
               "y": {"field": "lo", "type": "quantitative", "scale": {"domain": [-0.59, 0.68], "nice": false, "zero": false}, "axis": null}}},
            {"data": {"name": "pts"}, "transform": [{"filter": "datum.p == 'RB'"}],
             "mark": {"type": "point", "shape": "circle", "filled": true, "stroke": "black", "strokeWidth": 1.6, "size": 80, "opacity": 1},
             "encoding": {
               "x": {"field": "x", "type": "quantitative", "scale": {"domain": [10, 80], "nice": false, "zero": false}, "axis": null},
               "y": {"field": "y", "type": "quantitative", "scale": {"domain": [-0.59, 0.68], "nice": false, "zero": false}, "axis": null},
               "fill": {"field": "r", "type": "nominal", "scale": {"domain": ["t", "h"], "range": ["black", "white"]},
                        "legend": {"orient": "none", "legendX": 670, "legendY": -15, "title": null, "labelFontSize": 32, "labelColor": "black", "symbolSize": 70, "symbolStrokeColor": "black", "symbolStrokeWidth": 1.5, "symbolType": "circle", "rowPadding": 11, "padding": 0, "labelOffset": 6, "labelLimit": 0,
                                   "labelExpr": "datum.label == 't' ? '(p\u20d7, t)' : '(p\u20d7, \u00b3He)'"}}}},
            {"data": {"values": [{}]}, "mark": {"type": "text", "text": "\u00b9\u00b3C", "fontSize": 32, "align": "left", "baseline": "middle", "color": "black"},
             "encoding": {"x": {"datum": 13.5, "type": "quantitative", "scale": {"domain": [10, 80], "nice": false, "zero": false}, "axis": null},
                          "y": {"datum": 0.55, "type": "quantitative", "scale": {"domain": [-0.59, 0.68], "nice": false, "zero": false}, "axis": null}}},
            {"data": {"values": [{}]}, "mark": {"type": "text", "text": "1/2-", "fontSize": 30, "align": "left", "baseline": "middle", "color": "black"},
             "encoding": {"x": {"datum": 39.6, "type": "quantitative", "scale": {"domain": [10, 80], "nice": false, "zero": false}, "axis": null},
                          "y": {"datum": -0.255, "type": "quantitative", "scale": {"domain": [-0.59, 0.68], "nice": false, "zero": false}, "axis": null}}},
            {"data": {"values": [{}]}, "mark": {"type": "text", "text": "T = 3/2", "fontSize": 30, "align": "left", "baseline": "middle", "color": "black"},
             "encoding": {"x": {"datum": 39.9, "type": "quantitative", "scale": {"domain": [10, 80], "nice": false, "zero": false}, "axis": null},
                          "y": {"datum": -0.40, "type": "quantitative", "scale": {"domain": [-0.59, 0.68], "nice": false, "zero": false}, "axis": null}}}
          ]
        }
      ]
    }
  ]
}
